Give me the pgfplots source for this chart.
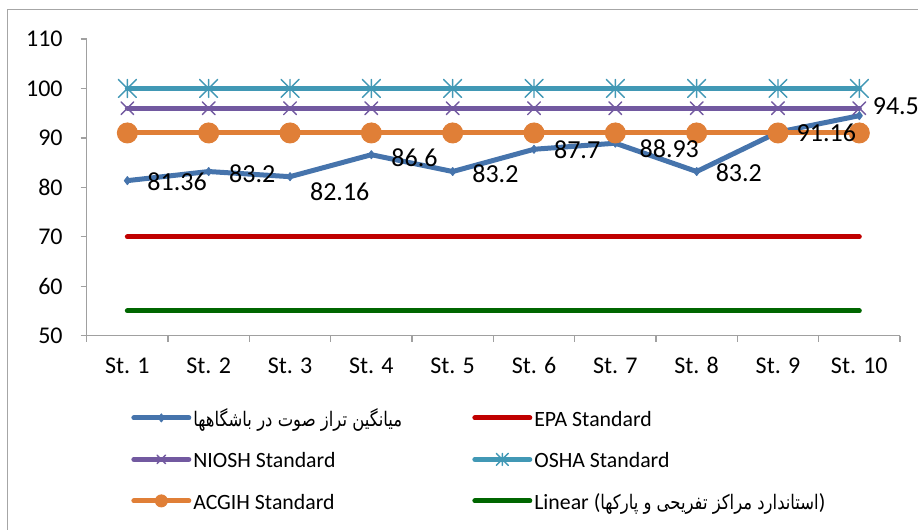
\documentclass[border=0pt]{standalone}
\usepackage{graphicx}
\usepackage{pgfplots}
\usepackage{pgfplotstable}
\pgfplotsset{compat=1.18}
\usepackage{fontspec}
\setmainfont{Carlito}
\newfontfamily\arabicfont[Script=Arabic,Scale=0.92]{DejaVu Sans}
\TeXXeTstate=1
\definecolor{cblue}{HTML}{4674AC}
\definecolor{cred}{HTML}{C00000}
\definecolor{cpurple}{HTML}{7259A0}
\definecolor{cteal}{HTML}{4198B5}
\definecolor{corange}{HTML}{E07F37}
\definecolor{cgreen}{HTML}{006600}
\definecolor{axisgray}{HTML}{A0A0A0}
\definecolor{framegray}{HTML}{A6A6A6}
\pgfdeclareplotmark{xstar}{%
  \pgfpathmoveto{\pgfqpoint{-\pgfplotmarksize}{-\pgfplotmarksize}}%
  \pgfpathlineto{\pgfqpoint{\pgfplotmarksize}{\pgfplotmarksize}}%
  \pgfpathmoveto{\pgfqpoint{-\pgfplotmarksize}{\pgfplotmarksize}}%
  \pgfpathlineto{\pgfqpoint{\pgfplotmarksize}{-\pgfplotmarksize}}%
  \pgfpathmoveto{\pgfqpoint{0pt}{-\pgfplotmarksize}}%
  \pgfpathlineto{\pgfqpoint{0pt}{\pgfplotmarksize}}%
  \pgfusepathqstroke}
\pgfplotstableread{
x y lab dx dy
0 81.36 81.36 8.8 -0.45
1 83.2 83.2 9.0 -0.9
2 82.16 82.16 8.8 -7.4
3 86.6 86.6 8.8 -1.4
4 83.2 83.2 8.6 -1.0
5 87.7 87.7 8.8 -0.35
6 88.93 88.93 10.9 -2.75
7 83.2 83.2 8.3 -0.4
8 91.16 91.16 8.1 -0.55
9 94.5 94.5 5.5 4.85
}\bluedata
\newcommand{\lw}[1]{\makebox[138.5pt][l]{\rule[-3pt]{0pt}{13pt}#1}}
\newcommand{\lr}[1]{\rule[-3pt]{0pt}{13pt}#1}
\newcommand{\fa}[1]{\scalebox{0.82}[1]{\arabicfont\beginR #1\endR}}
\begin{document}
\begin{tikzpicture}
\path[use as bounding box] (0,0) rectangle (459pt,265pt);
\draw[framegray, line width=0.6pt] (3.65pt,-5pt) -- (3.65pt,260.35pt) -- (470pt,260.35pt);
\begin{axis}[
  at={(43.35pt,97.15pt)}, anchor=south west,
  scale only axis, width=406.65pt, height=148.35pt,
  xmin=-0.5, xmax=9.5, ymin=50, ymax=110,
  ytick={50,60,...,110},
  xtick={0,...,9},
  xticklabels={St. 1,St. 2,St. 3,St. 4,St. 5,St. 6,St. 7,St. 8,St. 9,St. 10},
  minor xtick={-0.5,0.5,...,9.5},
  axis x line*=bottom, axis y line*=left,
  axis line style={draw=axisgray, line width=0.6pt, -},
  tick align=outside,
  major tick length=3pt, minor tick length=3pt,
  tick style={axisgray, line width=0.6pt},
  major x tick style={draw=none},
  clip=false,
  tick label style={font=\fontsize{12}{14}\selectfont, text=black},
  yticklabel style={anchor=east, inner sep=0pt, xshift=-8.85pt},
  xticklabel style={anchor=base, inner sep=0pt, yshift=-16.15pt},
  /pgf/number format/assume math mode=true,
  legend columns=2,
  legend cell align=left,
  legend style={draw=none, fill=none, at={(0.0544,-0.2302)}, anchor=north west,
    font=\fontsize{10.9}{12}\selectfont, row sep=7.25pt, column sep=0pt,
    inner sep=0pt, nodes={inner sep=1pt}},
  legend image code/.code={\draw[mark repeat=2,mark phase=2,#1] plot coordinates {(0pt,0pt) (13.75pt,0pt) (27.5pt,0pt)};},
  every axis plot/.append style={line cap=round, line join=round, line width=2.5pt},
]
\addplot[cblue, mark=diamond*, mark size=2pt, mark options={solid, fill=cblue, line width=0.5pt},
  legend image post style={mark size=2pt}] table[x=x,y=y] {\bluedata};
\addlegendentry{\lw{\fa{میانگین تراز صوت در باشگاهها}}}
\addplot[cred, mark=none] coordinates {(0,70) (1,70) (2,70) (3,70) (4,70) (5,70) (6,70) (7,70) (8,70) (9,70)};
\addlegendentry{\lr{EPA Standard}}
\addplot[cpurple, mark=x, mark size=4.5pt, mark options={solid, line width=0.7pt},
  legend image post style={mark size=3pt}] coordinates {(0,96) (1,96) (2,96) (3,96) (4,96) (5,96) (6,96) (7,96) (8,96) (9,96)};
\addlegendentry{\lw{NIOSH Standard}}
\addplot[cteal, mark=xstar, mark size=4.5pt, mark options={solid, line width=0.7pt},
  legend image post style={mark size=3pt}] coordinates {(0,100) (1,100) (2,100) (3,100) (4,100) (5,100) (6,100) (7,100) (8,100) (9,100)};
\addlegendentry{\lr{OSHA Standard}}
\addplot[corange, mark=*, mark size=5pt, mark options={solid, fill=corange, draw=corange, line width=0.5pt},
  legend image post style={mark size=3pt}] coordinates {(0,91) (1,91) (2,91) (3,91) (4,91) (5,91) (6,91) (7,91) (8,91) (9,91)};
\addlegendentry{\lw{ACGIH Standard}}
\addplot[cgreen, mark=none] coordinates {(0,55) (1,55) (2,55) (3,55) (4,55) (5,55) (6,55) (7,55) (8,55) (9,55)};
\addlegendentry{\lr{Linear (\fa{استاندارد مراکز تفریحی و پارکها})}}
\addplot[draw=none, mark=none, forget plot,
  point meta=explicit symbolic,
  visualization depends on={\thisrow{dx} \as \dx},
  visualization depends on={\thisrow{dy} \as \dy},
  nodes near coords={\pgfplotspointmeta},
  every node near coord/.append style={anchor=west, inner sep=0pt, text=black,
    font=\fontsize{13}{15}\selectfont, xshift=\dx pt, yshift=\dy pt}]
  table[x=x,y=y,meta=lab] {\bluedata};
\end{axis}
\end{tikzpicture}
\end{document}
